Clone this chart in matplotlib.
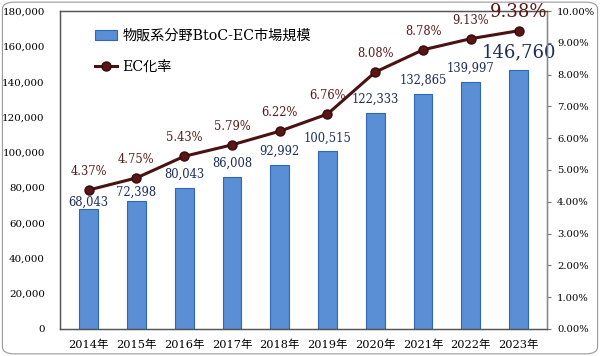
import numpy as np
import matplotlib.pyplot as plt
from matplotlib.patches import FancyBboxPatch
from matplotlib.ticker import FuncFormatter

plt.rcParams['font.family'] = ['DejaVu Serif', 'Noto Sans CJK JP']

years = ['2014年', '2015年', '2016年', '2017年', '2018年',
         '2019年', '2020年', '2021年', '2022年', '2023年']
market = [68043, 72398, 80043, 86008, 92992, 100515, 122333, 132865, 139997, 146760]
ec_rate = [4.37, 4.75, 5.43, 5.79, 6.22, 6.76, 8.08, 8.78, 9.13, 9.38]

bar_color = '#5a8fd6'
bar_edge = '#2c66bd'
line_color = '#4a1212'
label_blue = '#1f2d5c'
label_red = '#5a1a1a'

fig = plt.figure(figsize=(6.0, 3.56), dpi=100)
ax = fig.add_axes([0.1, 0.076, 0.812, 0.893])
ax2 = ax.twinx()

x = np.arange(len(years))
bars = ax.bar(x, market, width=0.39, color=bar_color, edgecolor=bar_edge,
              linewidth=0.8, label='物販系分野BtoC-EC市場規模', zorder=2)
line, = ax2.plot(x, ec_rate, color=line_color, linewidth=2.2, marker='o',
                 markersize=6.5, markerfacecolor='#5a1515', markeredgecolor='#3a0a0a',
                 label='EC化率', zorder=3)

ax.set_xlim(-0.6, len(years) - 0.4)
ax.set_ylim(0, 180000)
ax.set_yticks(np.arange(0, 180001, 20000))
ax.yaxis.set_major_formatter(FuncFormatter(lambda v, p: f'{int(v):,}'))
ax2.set_ylim(0, 10)
ax2.set_yticks(np.arange(0, 10.01, 1))
ax2.yaxis.set_major_formatter(FuncFormatter(lambda v, p: f'{v:.2f}%'))

ax.set_xticks(x)
ax.set_xticklabels(years, fontsize=8.2)
ax.tick_params(axis='y', length=0, labelsize=7.4, pad=11)
ax.tick_params(axis='x', length=0, labelsize=8.2, pad=8)
ax2.tick_params(axis='y', length=3, color='#777777', labelsize=7.2, pad=4)

for a in (ax, ax2):
    for s in a.spines.values():
        s.set_color('#555555')
        s.set_linewidth(0.9)
ax2.spines['right'].set_color('#888888')

# label offsets above bars (first two pulled down under the line)
bar_pad = [0, 1100, 4000, 4000, 4000, 4000, 4000, 4000, 4000, 4500]
for i, v in enumerate(market):
    big = i == len(market) - 1
    ax.text(i, v + bar_pad[i], f'{v:,}', ha='center', va='bottom',
            fontsize=13 if big else 8.3, color=label_blue, zorder=4)
for i, r in enumerate(ec_rate):
    big = i == len(ec_rate) - 1
    ax2.text(i, r + (0.38 if not big else 0.3), f'{r:.2f}%', ha='center', va='bottom',
             fontsize=13 if big else 8.3, color=label_red, zorder=4)

leg = ax.legend(handles=[bars, line], loc='upper left', bbox_to_anchor=(0.045, 0.985),
                frameon=False, fontsize=10.2, labelspacing=1.25, handlelength=1.6,
                handletextpad=0.35)

border = FancyBboxPatch((0.004, 0.006), 0.992, 0.988, boxstyle='round,pad=0,rounding_size=0.02',
                        transform=fig.transFigure, fill=False, edgecolor='#999999',
                        linewidth=0.8)
fig.patches.append(border)

fig.savefig('out.png', dpi=100)
